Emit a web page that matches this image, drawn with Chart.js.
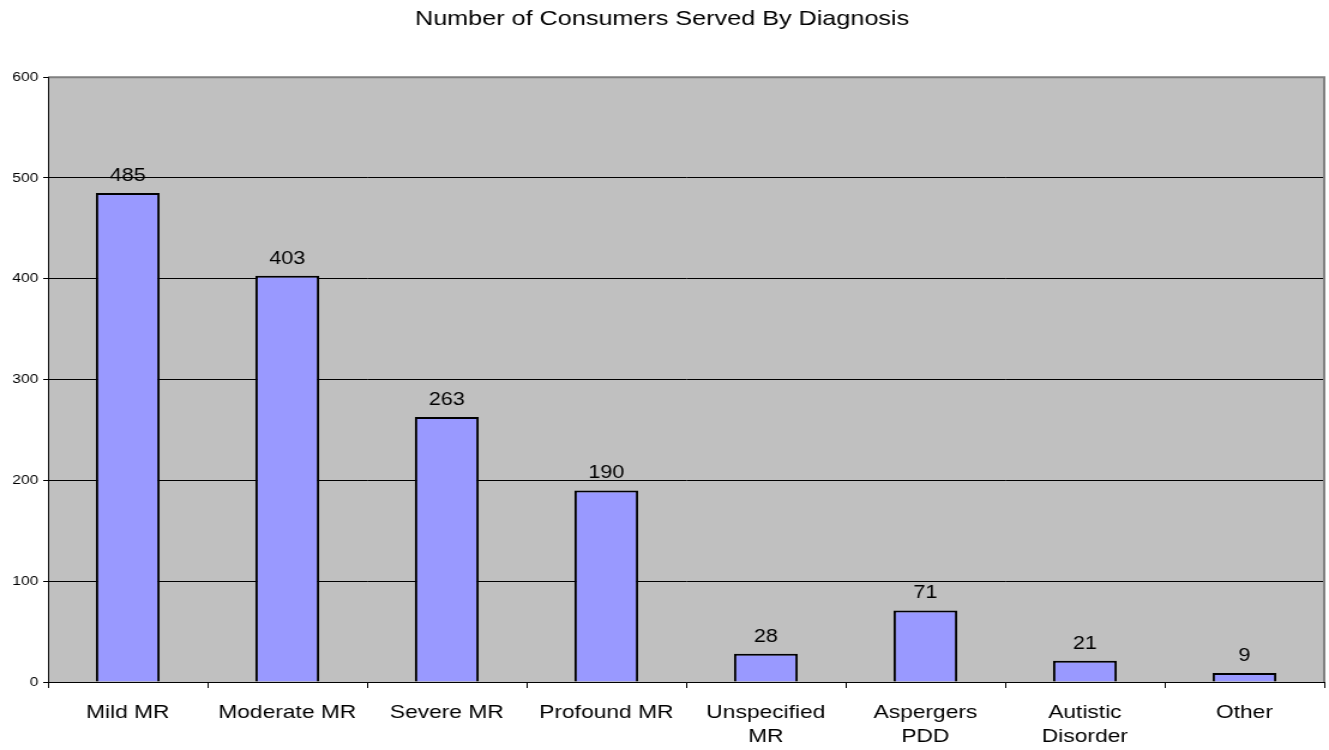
<!DOCTYPE html>
<html lang="en">
<head>
  <meta charset="UTF-8" />
  <title>Number of Consumers Served By Diagnosis</title>
  <script src="https://cdn.jsdelivr.net/npm/chart.js"></script>
  <style>
    html, body { margin: 0; padding: 0; background: #fff; overflow: hidden; }
  </style>
</head>
<body>
  <!-- the original picture is stretched wider than tall, so draw narrow and scale out -->
  <canvas id="diagChart" width="1108" height="750" style="width:1329px;height:750px"></canvas>

  <script>
    // chart data
    const categories = [
      "Mild MR", "Moderate MR", "Severe MR", "Profound MR",
      ["Unspecified", "MR"], ["Aspergers", "PDD"], ["Autistic", "Disorder"], "Other"
    ];
    const consumers = [485, 403, 263, 190, 28, 71, 21, 9];
    const yTicks = [0, 100, 200, 300, 400, 500, 600];

    const font = "'Liberation Sans', Arial, sans-serif";

    // gray plot area + gray frame on top/right
    const plotBg = {
      id: "plotBg",
      beforeDraw(chart) {
        const { ctx, chartArea: a } = chart;
        ctx.save();
        ctx.fillStyle = "#c0c0c0";
        ctx.fillRect(a.left, a.top, a.right - a.left, a.bottom - a.top);
        ctx.restore();
      },
      afterDatasetsDraw(chart) {
        const { ctx, chartArea: a } = chart;
        ctx.save();
        ctx.strokeStyle = "#808080";
        ctx.lineWidth = 2;
        ctx.beginPath();
        ctx.moveTo(a.left, a.top);
        ctx.lineTo(a.right, a.top);
        ctx.lineTo(a.right, a.bottom);
        ctx.stroke();
        ctx.strokeStyle = "#000";
        ctx.lineWidth = 1;
        ctx.beginPath();
        ctx.moveTo(a.left + 0.5, a.top);
        ctx.lineTo(a.left + 0.5, a.bottom);
        ctx.stroke();
        ctx.restore();
      }
    };

    // value labels above bars
    const valueLabels = {
      id: "valueLabels",
      afterDatasetsDraw(chart) {
        const { ctx } = chart;
        const meta = chart.getDatasetMeta(0);
        ctx.save();
        ctx.fillStyle = "#000";
        ctx.font = "18px " + font;
        ctx.textAlign = "center";
        ctx.textBaseline = "alphabetic";
        meta.data.forEach((bar, i) => {
          ctx.fillText(String(consumers[i]), bar.x, bar.y - 12);
        });
        ctx.restore();
      }
    };

    new Chart(document.getElementById("diagChart"), {
      type: "bar",
      data: {
        labels: categories,
        datasets: [{
          data: consumers,
          backgroundColor: "#9999ff",
          borderColor: "#000",
          borderWidth: 2,
          barPercentage: 0.4,
          categoryPercentage: 1
        }]
      },
      options: {
        responsive: false,
        animation: false,
        devicePixelRatio: 1,
        layout: { padding: { left: 0, right: 4, top: 0, bottom: 0 } },
        plugins: {
          legend: { display: false },
          tooltip: { enabled: false },
          title: {
            display: true,
            text: "Number of Consumers Served By Diagnosis",
            color: "#000",
            font: { family: font, size: 21, weight: "normal" },
            padding: { top: 7, bottom: 45 }
          }
        },
        scales: {
          x: {
            grid: {
              offset: true,
              drawOnChartArea: false,
              drawTicks: true,
              tickLength: 6,
              color: "#000"
            },
            border: { color: "#000", width: 1 },
            ticks: {
              color: "#000",
              font: { family: font, size: 19, lineHeight: 1.25 },
              padding: 13,
              maxRotation: 0,
              autoSkip: false
            },
            afterFit(scale) { scale.height = 68; }
          },
          y: {
            min: 0,
            max: 600,
            afterBuildTicks(scale) { scale.ticks = yTicks.map(v => ({ value: v })); },
            grid: { color: "#000", tickLength: 4, lineWidth: 1 },
            border: { color: "#000", width: 1 },
            ticks: {
              color: "#000",
              font: { family: font, size: 13 },
              padding: 4
            },
            afterFit(scale) { scale.width = 40; }
          }
        }
      },
      plugins: [plotBg, valueLabels]
    });
  </script>
</body>
</html>
